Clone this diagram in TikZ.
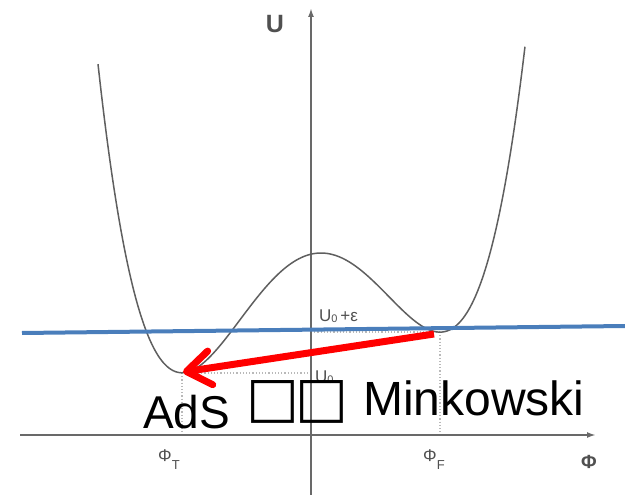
\documentclass[tikz,border=0pt]{standalone}
\usepackage{fontspec}
\setmainfont{Liberation Sans}
\newfontfamily\symfont{DejaVu Sans}
\usetikzlibrary{arrows.meta}
\definecolor{axisgray}{RGB}{105,105,105}
\definecolor{curvegray}{RGB}{95,95,95}
\definecolor{lblgray}{RGB}{80,80,80}
\definecolor{dotgray}{RGB}{185,185,185}
\definecolor{blueline}{RGB}{74,126,187}
\definecolor{redarrow}{RGB}{255,0,0}
\tikzset{
  axisline/.style={draw=axisgray, line width=1.8pt, -{Latex[length=9pt,width=6pt]}},
  curveline/.style={draw=curvegray, line width=1.5pt},
  guide/.style={draw=dotgray, line width=1.2pt, dotted},
  bluebar/.style={draw=blueline, line width=4pt},
  redarr/.style={draw=redarrow, line width=7pt, -{Straight Barb[length=24pt,width=34pt,round]}},
  smalllbl/.style={text=lblgray, inner sep=0pt, font=\fontsize{17}{17}\selectfont},
  axislbl/.style={text=lblgray, inner sep=0pt},
  bigtext/.style={text=black, inner sep=0pt, font=\fontsize{46}{46}\selectfont},
  boxglyph/.style={text=black, inner sep=0pt, anchor=center, font=\symfont\fontsize{56}{56}\selectfont},
}
\begin{document}
\begin{tikzpicture}[x=1pt,y=-1pt]
\useasboundingbox (0,0) rectangle (625,495);
% coordinates
\coordinate (xl) at (20,435);
\coordinate (xr) at (596,435);
\coordinate (yb) at (311,495);
\coordinate (yt) at (311,8);
\coordinate (minT) at (182,373);
\coordinate (minF) at (440,332);
\coordinate (axT) at (311,373);
\coordinate (axF) at (311,332);
\coordinate (footT) at (182,435);
\coordinate (footF) at (440,435);
\coordinate (bl) at (22,333);
\coordinate (br) at (625,326);
\coordinate (rs) at (434,334);
\coordinate (rt) at (183,372);
% guides
\draw[guide] (minT) -- (axT);
\draw[guide] (axF) -- (minF);
\draw[guide] (minT) -- (footT);
\draw[guide] (minF) -- (footF);
% axes
\draw[axisline] (xl) -- (xr);
\draw[axisline] (yb) -- (yt);
% potential curve
\draw[curveline] plot[domain=-2.13:2.14, samples=150, smooth]
  ({311+100*\x}, {253-142*(\x*\x*\x*\x/4 - 0.1*\x*\x*\x/3 - 0.832*\x*\x + 0.1664*\x - 0.0083)});
% labels
\node[axislbl, font=\bfseries\fontsize{25}{25}\selectfont] (ulab) at (275,24) {U};
\node[axislbl, font=\bfseries\fontsize{19}{19}\selectfont] (philab) at (589,462) {Φ};
\node[axislbl, font=\fontsize{17}{17}\selectfont, anchor=base west] (phiT) at (158,461) {Φ\raisebox{-8pt}{\fontsize{13}{13}\selectfont T}};
\node[axislbl, font=\fontsize{17}{17}\selectfont, anchor=base west] (phiF) at (423,461) {Φ\raisebox{-8pt}{\fontsize{13}{13}\selectfont F}};
\node[smalllbl, anchor=base west] (ueps) at (319,321) {U\raisebox{-1pt}{\fontsize{11}{11}\selectfont 0}\,+ε};
\node[smalllbl, anchor=base west] (uzero) at (315,382) {U\raisebox{-1pt}{\fontsize{11}{11}\selectfont 0}};
% lines
\draw[bluebar] (bl) -- (br);
\draw[redarr] (rs) -- (rt);
% big text
\node[bigtext, anchor=base west] (ads) at (143,428) {AdS};
\node[boxglyph] (boxa) at (273,402) {□};
\node[boxglyph] (boxb) at (321.5,402) {□};
\node[bigtext, anchor=base west, font=\fontsize{48}{48}\selectfont] (mink) at (363,415) {Minkowski};
\end{tikzpicture}
\end{document}
